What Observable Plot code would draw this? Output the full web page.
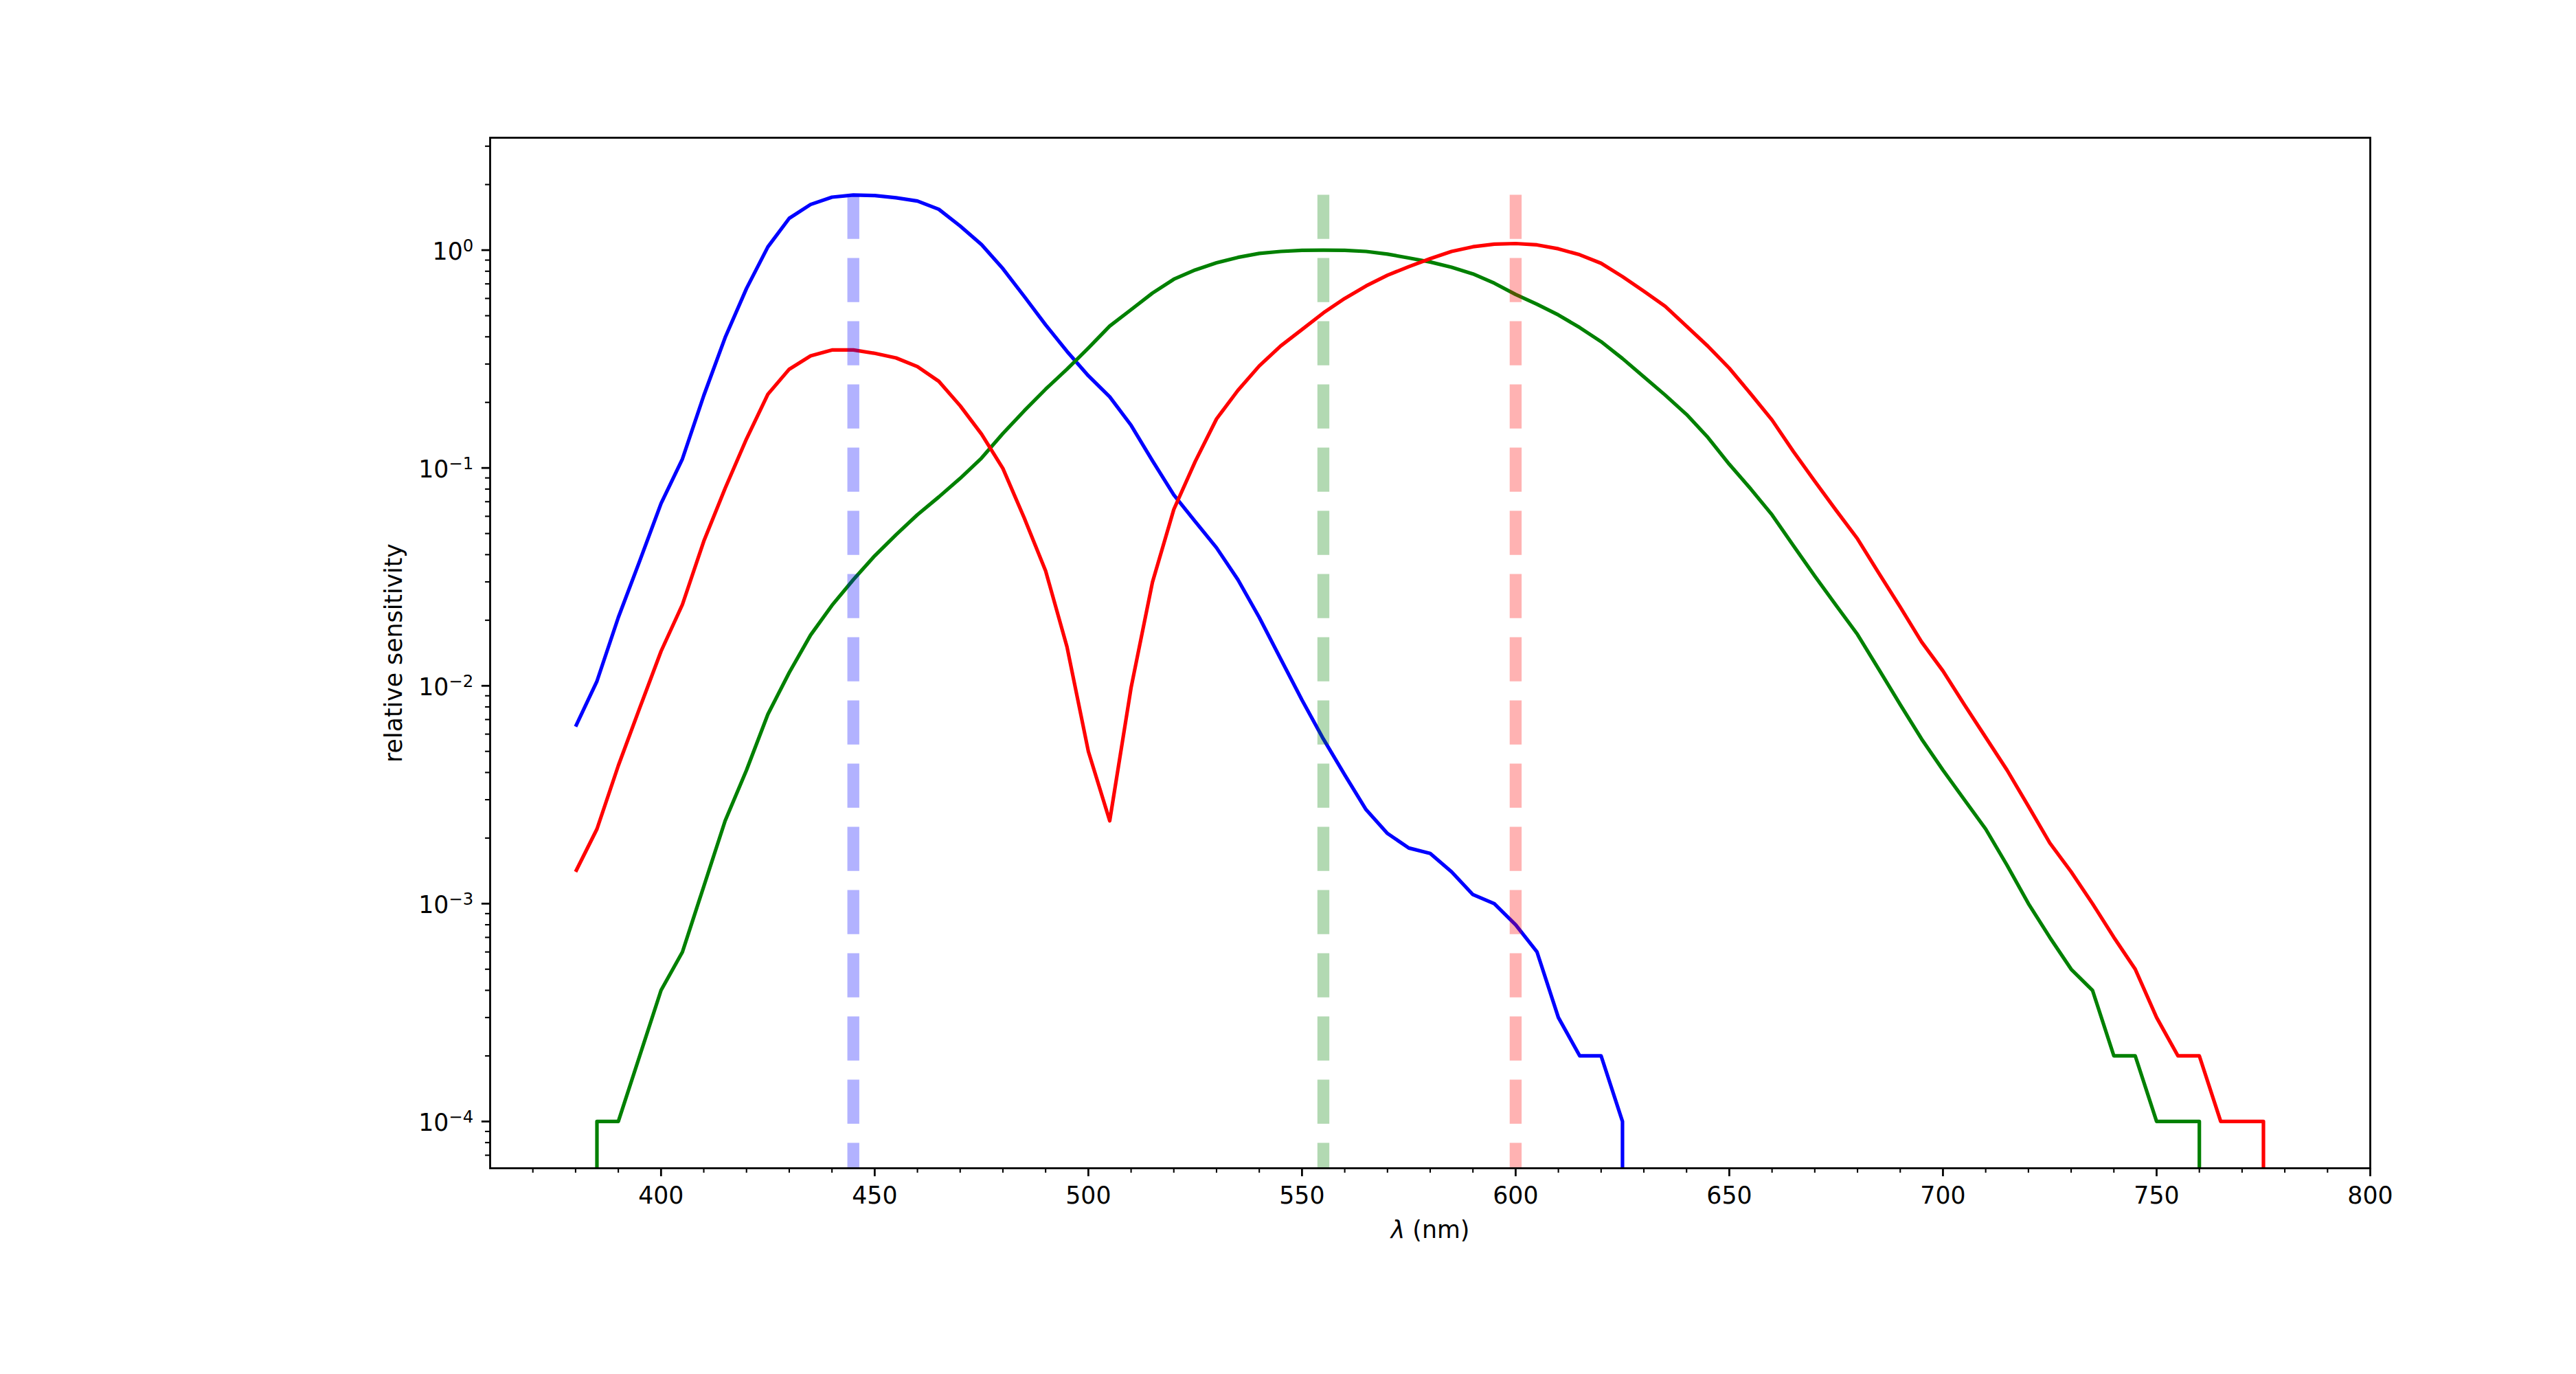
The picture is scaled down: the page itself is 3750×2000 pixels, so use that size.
<!DOCTYPE html>
<html>
<head>
<meta charset="utf-8">
<script src="https://cdn.jsdelivr.net/npm/d3@7"></script>
<script src="https://cdn.jsdelivr.net/npm/@observablehq/plot@0.6"></script>
<style>
  html, body { margin: 0; padding: 0; background: #ffffff; }
  #chart svg { display: block; }
</style>
</head>
<body>
<div id="chart"></div>
<script>
// ---------- data ----------
const wavelengths = [
  380, 385, 390, 395, 400, 405, 410, 415, 420, 425,
  430, 435, 440, 445, 450, 455, 460, 465, 470, 475,
  480, 485, 490, 495, 500, 505, 510, 515, 520, 525,
  530, 535, 540, 545, 550, 555, 560, 565, 570, 575,
  580, 585, 590, 595, 600, 605, 610, 615, 620, 625,
  630, 635, 640, 645, 650, 655, 660, 665, 670, 675,
  680, 685, 690, 695, 700, 705, 710, 715, 720, 725,
  730, 735, 740, 745, 750, 755, 760, 765, 770, 775,
  780
];

// short-wavelength (blue) cone
const sensitivityS = [
  0.0065, 0.0105, 0.0206, 0.0374, 0.0687, 0.110, 0.215, 0.397, 0.667, 1.035,
  1.40, 1.62, 1.75, 1.79, 1.78, 1.74, 1.68, 1.54, 1.29, 1.06,
  0.822, 0.613, 0.454, 0.343, 0.265, 0.212, 0.157, 0.108, 0.0752, 0.0568,
  0.0430, 0.0307, 0.0206, 0.0133, 0.0086, 0.0057, 0.0039, 0.0027, 0.0021, 0.0018,
  0.0017, 0.0014, 0.0011, 0.0010, 0.0008, 0.0006, 0.0003, 0.0002, 0.0002, 0.0001,
  0, 0, 0, 0, 0, 0, 0, 0, 0, 0,
  0, 0, 0, 0, 0, 0, 0, 0, 0, 0,
  0, 0, 0, 0, 0, 0, 0, 0, 0, 0,
  0
];

// medium-wavelength (green) cone
const sensitivityM = [
  0, 0.0001, 0.0001, 0.0002, 0.0004, 0.0006, 0.0012, 0.0024, 0.0041, 0.0074,
  0.0115, 0.0171, 0.0234, 0.0307, 0.0395, 0.0494, 0.0610, 0.0736, 0.0896, 0.111,
  0.144, 0.183, 0.230, 0.284, 0.355, 0.448, 0.533, 0.635, 0.735, 0.811,
  0.875, 0.926, 0.966, 0.986, 0.998, 1.000, 0.998, 0.986, 0.959, 0.920,
  0.882, 0.834, 0.778, 0.705, 0.626, 0.564, 0.504, 0.441, 0.380, 0.318,
  0.262, 0.216, 0.176, 0.138, 0.104, 0.0802, 0.0609, 0.0440, 0.0319, 0.0234,
  0.0172, 0.0119, 0.0082, 0.0057, 0.0041, 0.0030, 0.0022, 0.0015, 0.0010, 0.0007,
  0.0005, 0.0004, 0.0002, 0.0002, 0.0001, 0.0001, 0.0001, 0, 0, 0,
  0
];

// long-wavelength (red) cone
const sensitivityL = [
  0.0014, 0.0022, 0.0043, 0.0079, 0.0144, 0.0236, 0.0461, 0.0807, 0.136, 0.218,
  0.284, 0.327, 0.348, 0.348, 0.336, 0.320, 0.292, 0.250, 0.193, 0.143,
  0.0995, 0.0589, 0.0337, 0.0151, 0.0050, 0.0024, 0.0098, 0.0299, 0.0645, 0.107,
  0.168, 0.227, 0.294, 0.363, 0.432, 0.515, 0.600, 0.685, 0.767, 0.840,
  0.914, 0.986, 1.036, 1.065, 1.072, 1.057, 1.014, 0.952, 0.870, 0.756,
  0.648, 0.552, 0.447, 0.362, 0.287, 0.219, 0.166, 0.119, 0.0869, 0.0639,
  0.0473, 0.0329, 0.0230, 0.0159, 0.0117, 0.0082, 0.0058, 0.0041, 0.0028, 0.0019,
  0.0014, 0.0010, 0.0007, 0.0005, 0.0003, 0.0002, 0.0002, 0.0001, 0.0001, 0.0001,
  0
];

const seriesNames  = ["S", "M", "L"];
const seriesColors = ["#0000ff", "#008000", "#ff0000"];

const peakWavelengths = [445, 555, 600];
const peakColors      = ["#0000ff", "#008000", "#ff0000"];

const xTicks      = [400, 450, 500, 550, 600, 650, 700, 750, 800];
const xMinorTicks = [370, 380, 390, 410, 420, 430, 440, 460, 470, 480, 490,
                     510, 520, 530, 540, 560, 570, 580, 590, 610, 620, 630, 640,
                     660, 670, 680, 690, 710, 720, 730, 740, 760, 770, 780, 790];
const yTicks      = [1e-4, 1e-3, 1e-2, 1e-1, 1];
const yTickLabels = ["10^\u22124", "10^\u22123", "10^\u22122", "10^\u22121", "10^0"];
const yDecades    = [1e-5, 1e-4, 1e-3, 1e-2, 1e-1, 1];
const yMinorMultipliers = [2, 3, 4, 5, 6, 7, 8, 9];
const yDomain     = [6.1e-5, 3.28];
const xDomain     = [360, 800];

const xLabel = "\u03bb (nm)";
const yLabel = "relative sensitivity";

// ---------- styling constants (matplotlib at 250 dpi) ----------
const PT = 250 / 72;
const FONT = 10 * PT;              // 34.72 px
const SUP = 0.7 * FONT;

// ---------- build table ----------
const seriesValues = [sensitivityS, sensitivityM, sensitivityL];
const tables = seriesValues.map((vals, k) =>
  wavelengths.map((w, i) => ({wavelength: w, value: vals[i], series: seriesNames[k]}))
);
const yMinorTicks = yDecades.flatMap(d => yMinorMultipliers.map(m => m * d))
  .filter(v => v > yDomain[0] && v < yDomain[1]);
const peakTop = d3.max(seriesValues.flat());
// zero values lie far below the log axis; they are clipped at the frame
const yOf = d => (d.value > 0 ? d.value : 1e-300);

const marks = [];
tables.forEach((t, k) => {
  marks.push(Plot.line(t, {
    x: "wavelength", y: yOf, stroke: seriesColors[k],
    strokeWidth: 1.5 * PT, strokeLinejoin: "round", strokeLinecap: "butt", clip: true
  }));
});
peakWavelengths.forEach((w, i) => {
  marks.push(Plot.ruleX([w], {
    x: d => d, y1: () => peakTop, y2: () => yDomain[0],
    stroke: peakColors[i], strokeOpacity: 0.3, strokeWidth: 5 * PT,
    strokeDasharray: `${3.7 * 5 * PT},${1.6 * 5 * PT}`, strokeLinecap: "butt"
  }));
});
marks.push(Plot.frame({stroke: "black", strokeWidth: 0.8 * PT}));
marks.push(Plot.axisX({ticks: xTicks, anchor: "bottom", label: null,
  tickSize: 3.5 * PT, tickPadding: 14.85, strokeWidth: 0.8 * PT,
  tickFormat: d => String(d), fontSize: FONT, fill: "black", stroke: "black"}));
marks.push(Plot.axisX({ticks: xMinorTicks, anchor: "bottom", label: null,
  tickSize: 2 * PT, strokeWidth: 0.6 * PT, tickFormat: () => "", stroke: "black"}));
marks.push(Plot.axisY({ticks: yTicks, anchor: "left", label: null,
  tickSize: 3.5 * PT, strokeWidth: 0.8 * PT, tickFormat: () => "", stroke: "black"}));
marks.push(Plot.axisY({ticks: yMinorTicks, anchor: "left", label: null,
  tickSize: 2 * PT, strokeWidth: 0.6 * PT, tickFormat: () => "", stroke: "black"}));
marks.push(Plot.text(yTicks.map((v, i) => ({v, label: yTickLabels[i]})), {
  y: "v", text: "label", frameAnchor: "left", dx: -7 * PT, dy: 13.5,
  textAnchor: "end", lineAnchor: "bottom", fontSize: FONT, fill: "black"}));
marks.push(Plot.text([xLabel], {
  text: d => d, frameAnchor: "bottom", dy: 101, textAnchor: "middle",
  lineAnchor: "bottom", fontSize: FONT, fill: "black"}));
marks.push(Plot.text([yLabel], {
  text: d => d, frameAnchor: "left", dx: -129, rotate: -90, textAnchor: "middle",
  lineAnchor: "bottom", fontSize: FONT, fill: "black"}));

const svg = Plot.plot({
  width: 3750, height: 2000,
  marginLeft: 713, marginRight: 300, marginTop: 200, marginBottom: 300,
  x: {domain: xDomain, label: null},
  y: {type: "log", domain: yDomain, label: null},
  style: {fontFamily: "'DejaVu Sans', sans-serif", fontSize: `${FONT}px`, color: "black", background: "white"},
  marks
});

// mathtext-like rendering: superscripts and italic lambda
d3.select(svg).selectAll("text").each(function() {
  const t = this.textContent;
  const sel = d3.select(this);
  const m = t.match(/^(.*)\^(.*)$/);
  if (m) {
    this.textContent = "";
    sel.append("tspan").text(m[1]);
    sel.append("tspan").attr("font-size", SUP).attr("dy", -12).text(m[2]);
  } else if (t === xLabel) {
    this.textContent = "";
    sel.append("tspan").attr("font-style", "italic").text(xLabel.slice(0, 1));
    sel.append("tspan").text(xLabel.slice(1));
  }
});

document.getElementById("chart").appendChild(svg);
</script>
</body>
</html>
